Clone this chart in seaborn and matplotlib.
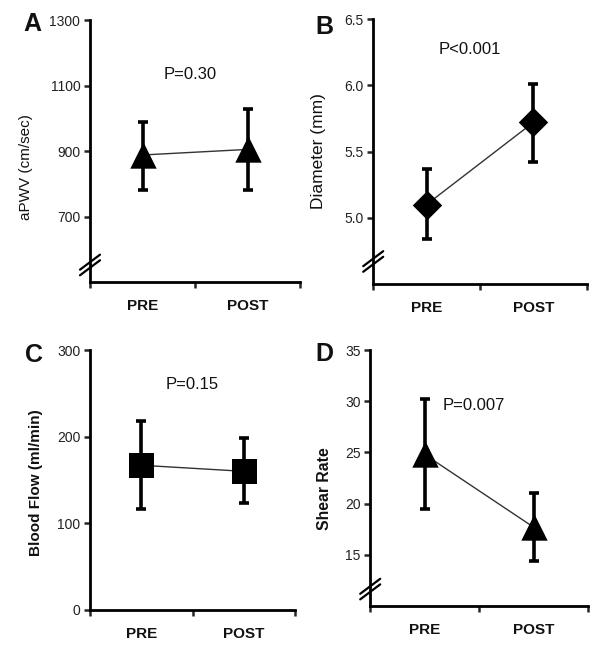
import matplotlib
matplotlib.use("Agg")
import matplotlib.pyplot as plt
import seaborn as sns
import pandas as pd
import numpy as np

sns.set_theme(style="ticks")
plt.rcParams['font.family'] = ['Liberation Sans', 'DejaVu Sans']

phases = ["PRE", "POST"]

apwv_mean = [888, 905]
apwv_lo = [780, 780]
apwv_hi = [990, 1030]

diam_mean = [5.10, 5.72]
diam_lo = [4.84, 5.42]
diam_hi = [5.37, 6.01]

flow_mean = [167, 160]
flow_lo = [116, 123]
flow_hi = [218, 198]

shear_mean = [24.8, 17.7]
shear_lo = [19.5, 14.4]
shear_hi = [30.2, 21.0]

panels = [
    dict(letter="A", mean=apwv_mean, lo=apwv_lo, hi=apwv_hi, ylabel="aPWV (cm/sec)",
         ylim=(500, 1300), yticks=[700, 900, 1100, 1300], fmt="{:.0f}", marker="^", ms=19,
         ptext="P=0.30", pxy=(0.95, 1135), brk=0.065, ylfs=11, ylbold=False,
         ylc=(-0.27, 0.44), lc=(-0.276, 0.985),
         rect=[0.150, 0.5655, 0.350, 0.4035]),
    dict(letter="B", mean=diam_mean, lo=diam_lo, hi=diam_hi, ylabel="Diameter (mm)",
         ylim=(4.5, 6.5), yticks=[5.0, 5.5, 6.0, 6.5], fmt="{:.1f}", marker="D", ms=15,
         ptext="P<0.001", pxy=(0.90, 6.27), brk=0.085, ylfs=12.5, ylbold=False,
         ylc=(-0.22, 0.5), lc=(-0.229, 0.97),
         rect=[0.622, 0.5624, 0.356, 0.4083]),
    dict(letter="C", mean=flow_mean, lo=flow_lo, hi=flow_hi, ylabel="Blood Flow (ml/min)",
         ylim=(0, 300), yticks=[0, 100, 200, 300], fmt="{:.0f}", marker="s", ms=18,
         ptext="P=0.15", pxy=(1.0, 260), brk=None, ylfs=11, ylbold=True,
         ylc=(-0.229, 0.49), lc=(-0.273, 0.98),
         rect=[0.150, 0.0601, 0.342, 0.4006]),
    dict(letter="D", mean=shear_mean, lo=shear_lo, hi=shear_hi, ylabel="Shear Rate",
         ylim=(10, 35), yticks=[15, 20, 25, 30, 35], fmt="{:.0f}", marker="^", ms=19,
         ptext="P=0.007", pxy=(0.95, 29.6), brk=0.066, ylfs=11.3, ylbold=True,
         ylc=(-0.174, 0.457), lc=(-0.211, 0.985),
         rect=[0.617, 0.0663, 0.363, 0.3944]),
]

W, H = 600, 649
fig = plt.figure(figsize=(W / 100, H / 100), dpi=100)

for p in panels:
    ax = fig.add_axes(p["rect"])
    axw = p["rect"][2] * W
    axh = p["rect"][3] * H
    df = pd.DataFrame({"phase": phases, "x": [0.5, 1.5], "mean": p["mean"],
                       "lo": p["lo"], "hi": p["hi"]})
    ax.errorbar(df["x"], df["mean"],
                yerr=[df["mean"] - df["lo"], df["hi"] - df["mean"]],
                fmt="none", ecolor="black", elinewidth=2.6, capsize=3.6, capthick=2.6, zorder=2)
    sns.lineplot(data=df, x="x", y="mean", ax=ax, color="#333333", linewidth=1.0,
                 estimator=None, sort=False, zorder=3)
    sns.scatterplot(data=df, x="x", y="mean", ax=ax, marker=p["marker"], s=p["ms"] ** 2,
                    color="black", edgecolor="black", linewidth=0, zorder=4)
    ax.set_xlim(0, 2)
    ax.set_ylim(*p["ylim"])
    ax.set_xticks([0, 1, 2])
    ax.set_xticklabels([])
    ax.set_xticks([0.5, 1.5], minor=True)
    ax.set_xticklabels(phases, minor=True, fontsize=11, fontweight="bold", color="#111111")
    ax.tick_params(axis="x", which="minor", length=0, pad=12)
    ax.tick_params(axis="x", which="major", length=4, width=1.8, direction="out")
    ax.set_yticks(p["yticks"])
    ax.set_yticklabels([p["fmt"].format(v) for v in p["yticks"]], fontsize=10, color="#222222")
    ax.tick_params(axis="y", length=4, width=1.8, direction="out", pad=3)
    for side in ["top", "right"]:
        ax.spines[side].set_visible(False)
    for side in ["left", "bottom"]:
        ax.spines[side].set_linewidth(2.0)
        ax.spines[side].set_color("black")
    ax.set_xlabel("")
    ax.set_ylabel(p["ylabel"], fontsize=p["ylfs"], fontweight="bold" if p["ylbold"] else "normal",
                  color="#111111")
    ax.yaxis.set_label_coords(*p["ylc"])
    ax.text(p["pxy"][0], p["pxy"][1], p["ptext"], fontsize=12, ha="center", va="center",
            color="#111111")
    ax.text(p["lc"][0], p["lc"][1], p["letter"], transform=ax.transAxes, fontsize=18,
            fontweight="bold", ha="center", va="center", color="#111111")
    if p["brk"] is not None:
        dx = 10 / axw
        dyh = 7.5 / axh
        for off in (-2.8, 2.8):
            yc = p["brk"] + off / axh
            ax.plot([-dx, dx], [yc - dyh, yc + dyh], transform=ax.transAxes,
                    color="black", linewidth=1.6, clip_on=False, zorder=5)

fig.savefig("out.png", dpi=100)
